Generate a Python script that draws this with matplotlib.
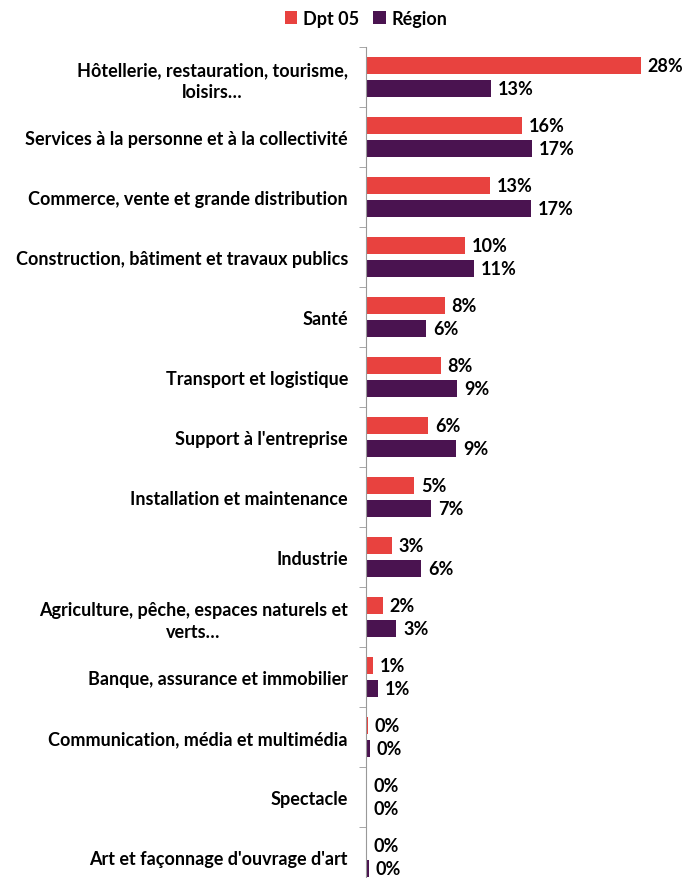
import numpy as np
import matplotlib.pyplot as plt

categories = [
    "Hôtellerie, restauration, tourisme,\nloisirs…",
    "Services à la personne et à la collectivité",
    "Commerce, vente et grande distribution",
    "Construction, bâtiment et travaux publics",
    "Santé",
    "Transport et logistique",
    "Support à l'entreprise",
    "Installation et maintenance",
    "Industrie",
    "Agriculture, pêche, espaces naturels et\nverts…",
    "Banque, assurance et immobilier",
    "Communication, média et multimédia",
    "Spectacle",
    "Art et façonnage d'ouvrage d'art",
]
dpt05 = [28.0, 15.9, 12.6, 10.1, 8.0, 7.6, 6.3, 4.9, 2.6, 1.7, 0.7, 0.2, 0.1, 0.1]
region = [12.7, 16.9, 16.8, 11.0, 6.1, 9.3, 9.2, 6.6, 5.6, 3.1, 1.2, 0.4, 0.1, 0.3]

red = '#E8423F'
purple = '#4A1350'
font = 'Lato'

fig = plt.figure(figsize=(6.97, 8.79), dpi=100)
ax = fig.add_axes([366 / 697, 1 - 888 / 879, 324 / 697, 840 / 879])

y = np.arange(len(categories))
h = 0.29
off = 0.19
b1 = ax.barh(y - off, dpt05, height=h, color=red, label='Dpt 05')
b2 = ax.barh(y + off, region, height=h, color=purple, label='Région')

for bars, vals in ((b1, dpt05), (b2, region)):
    for bar, v in zip(bars, vals):
        ax.annotate(f"{round(v):.0f}%", (bar.get_width(), bar.get_y() + bar.get_height() / 2),
                    xytext=(5, 0), textcoords='offset points', ha='left', va='center',
                    fontsize=13, fontweight='bold', family=font)

ax.set_xlim(0, 33)
ax.set_ylim(len(categories) - 0.5, -0.5)
ax.set_yticks(y)
ax.set_yticklabels(categories, fontsize=13, fontweight='bold', family=font,
                   multialignment='center', linespacing=1.3)
ax.set_yticks(np.arange(len(categories) + 1) - 0.5, minor=True)
ax.tick_params(axis='y', which='major', length=0, pad=13)
ax.tick_params(axis='y', which='minor', length=5, color='#999999', direction='out')
ax.set_xticks([])
for s in ['top', 'right', 'bottom']:
    ax.spines[s].set_visible(False)
ax.spines['left'].set_color('#999999')

fig.legend(handles=[b1, b2], loc='center', bbox_to_anchor=(366 / 697, 1 - 19 / 879),
           ncol=2, frameon=False, handlelength=0.7, handleheight=0.7, handletextpad=0.3,
           columnspacing=0.8, prop={'family': font, 'weight': 'bold', 'size': 13})

fig.savefig('out.png', dpi=100)
